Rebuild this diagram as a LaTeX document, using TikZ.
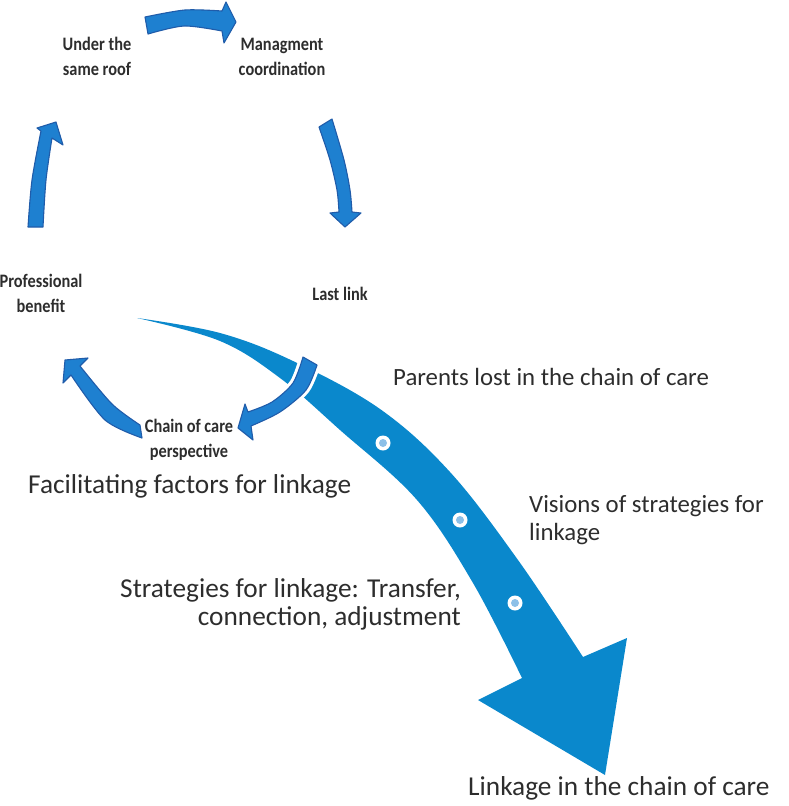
\documentclass[tikz,border=0pt]{standalone}
\usepackage{fontspec}
\setmainfont{Carlito}
\definecolor{bblue}{RGB}{10,136,204}
\definecolor{sblue}{RGB}{30,128,208}
\definecolor{sborder}{RGB}{32,92,170}
\definecolor{dotblue}{RGB}{140,192,232}
\definecolor{txt}{RGB}{45,45,45}
\tikzset{
  smallarrow/.style={fill=sblue, draw=sborder, line width=1.1pt, line join=round},
  halo/.style={draw=white, line width=7pt, line join=round},
  bigarrow/.style={fill=bblue},
  smalllabel/.style={font=\fontsize{19}{25}\selectfont\bfseries, xscale=0.86, inner sep=0pt, align=center, text=txt},
  biglabel/.style={font=\fontsize{24.8}{28}\selectfont, inner sep=0pt, text=txt},
  wlabel/.style={font=\fontsize{27.3}{28}\selectfont, inner sep=0pt, text=txt},
  dotring/.style={fill=white},
  dotcore/.style={fill=dotblue}
}
\begin{document}
\begin{tikzpicture}[x=1pt,y=-1pt]
\useasboundingbox (0,0) rectangle (788,806);

% big arrow
\fill[bigarrow] plot[smooth, tension=0.6] coordinates {(137,318) (220,333) (293,361) (380,409) (450,472) (518,560) (583,657)}
  -- (627,638) -- (605,775) -- (478,700)
  -- plot[smooth, tension=0.6] coordinates {(522,678) (473,583) (417,500) (340,430) (280,378) (220,341) (137,318)} -- cycle;

% dots
\foreach \n/\p in {d1/{(383,443)}, d2/{(460,520)}, d3/{(515,603)}}{
  \fill[dotring] \p circle (7.5);
  \fill[dotcore] \p circle (4);
}

% top arrow
\path[smallarrow] plot[smooth] coordinates {(145,17) (185,10) (222,11)} -- (226,2) -- (236,22) -- (224,43)
  -- plot[smooth] coordinates {(222,31) (184,26) (148,34)} -- cycle;
% right arrow
\path[smallarrow] plot[smooth] coordinates {(319,127) (330,160) (337,190) (339,212)} -- (330,213) -- (345,227) -- (361,213)
  -- plot[smooth] coordinates {(352,212) (350,190) (344,160) (332,119)} -- cycle;
% left arrow
\path[smallarrow] plot[smooth] coordinates {(28,227) (32,180) (41,131)} -- (37,128) -- (56,122) -- (63,145)
  -- plot[smooth] coordinates {(52,138) (46,180) (43,227)} -- cycle;
% bottom-left arrow
\path[smallarrow] plot[smooth] coordinates {(140,425) (112,404) (80,366)} -- (88,358) -- (65,360) -- (63,383)
  -- plot[smooth] coordinates {(71,375) (105,420) (142,438)} -- cycle;
% last link arrow with halo
\path[halo] plot[smooth] coordinates {(303,357) (293,383) (272,402) (248,412)} -- (245,404) -- (238,428) -- (253,440)
  -- plot[smooth] coordinates {(251,426) (280,412) (306,390) (317,365)} -- cycle;
\path[smallarrow] plot[smooth] coordinates {(303,357) (293,383) (272,402) (248,412)} -- (245,404) -- (238,428) -- (253,440)
  -- plot[smooth] coordinates {(251,426) (280,412) (306,390) (317,365)} -- cycle;

% small labels (anchor base = last line)
\node[smalllabel, anchor=base] (roof) at (97,75) {Under the\\same roof};
\node[smalllabel, anchor=base] (mgmt) at (282,75) {Managment\\coordination};
\node[smalllabel, anchor=base] (prof) at (41,312) {Professional\\benefit};
\node[smalllabel, anchor=base] (last) at (340,300) {Last link};
\node[smalllabel, anchor=base] (chain) at (189,457) {Chain of care\\perspective};

% big labels
\node[wlabel, anchor=base west] (fac) at (28,493) {Facilitating factors for linkage};
\node[biglabel, anchor=base west] (par) at (393,385) {Parents lost in the chain of care};
\node[biglabel, anchor=base west, align=left] (vis) at (529,540) {Visions of strategies for\\linkage};
\node[wlabel, anchor=base east, align=right] (strat) at (461,625) {Strategies for linkage: Transfer,\\connection, adjustment};
\node[wlabel, anchor=base west] (link) at (468,795) {Linkage in the chain of care};
\end{tikzpicture}
\end{document}
